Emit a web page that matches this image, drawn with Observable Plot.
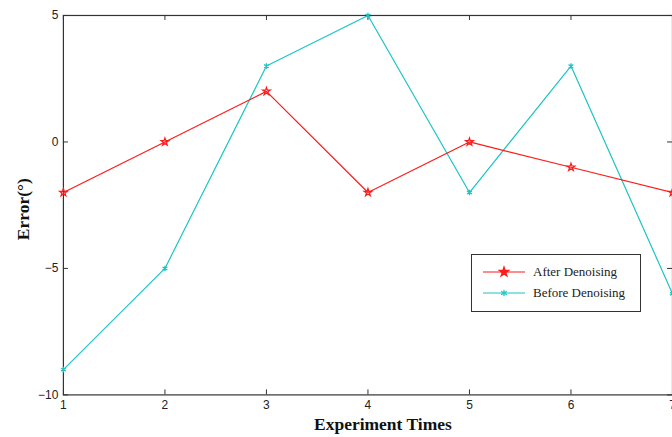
<!DOCTYPE html>
<html>
<head>
<meta charset="utf-8">
<script src="https://cdn.jsdelivr.net/npm/d3@7"></script>
<script src="https://cdn.jsdelivr.net/npm/@observablehq/plot@0.6"></script>
<style>
  html, body { margin: 0; padding: 0; background: #fff; overflow: hidden; }
  #wrap { position: relative; width: 672px; height: 437px; overflow: hidden; }
  #legend { position: absolute; left: 471px; top: 254px; width: 168px; height: 56px;
    border: 1px solid #333; background: #fff; font-family: "Liberation Serif", serif; font-size: 13px; color: #222; }
  .row { position: absolute; left: 0; height: 14px; display: flex; align-items: center; }
  .row svg { margin-left: 11px; }
  .row span { margin-left: 8px; }
</style>
</head>
<body>
<div id="wrap"></div>
<script>
const times = [1, 2, 3, 4, 5, 6, 7];
const afterDenoising = [-2, 0, 2, -2, 0, -1, -2];
const beforeDenoising = [-9, -5, 3, 5, -2, 3, -6];
const xTicks = [1, 2, 3, 4, 5, 6, 7];
const yTicks = [-10, -5, 0, 5];
const seriesNames = ["After Denoising", "Before Denoising"];
const seriesColors = ["#ff1a1a", "#1cc4c4"];

const afterData = times.map((t, i) => ({t, v: afterDenoising[i]}));
const beforeData = times.map((t, i) => ({t, v: beforeDenoising[i]}));

const tickFont = {fontFamily: "'Liberation Sans', Arial, sans-serif", fontSize: 12};
const titleFont = {fontFamily: "'Liberation Serif', 'Times New Roman', serif", fontSize: 17.5, fontWeight: "bold"};

const chart = Plot.plot({
  width: 673,
  height: 437,
  marginLeft: 63,
  marginRight: 0,
  marginTop: 15,
  marginBottom: 42,
  x: {domain: [1, 7]},
  y: {domain: [-10, 5]},
  style: {background: "#fff", overflow: "visible"},
  marks: [
    Plot.axisX(xTicks, {tickSize: 0, tickPadding: 6, label: null, fill: "#222", ...tickFont}),
    Plot.axisY(yTicks, {tickSize: 0, tickPadding: 5, label: null, fill: "#222", ...tickFont}),
    // inward ticks
    Plot.tickX(xTicks, {x: d => d, insetTop: 375, stroke: "#333"}),
    Plot.tickX(xTicks, {x: d => d, insetBottom: 375, stroke: "#333"}),
    Plot.tickY(yTicks, {y: d => d, insetRight: 605, stroke: "#333"}),
    Plot.tickY(yTicks, {y: d => d, insetLeft: 605, stroke: "#333"}),
    Plot.frame({stroke: "#333", strokeWidth: 1.2}),
    Plot.line(beforeData, {x: "t", y: "v", stroke: seriesColors[1], strokeWidth: 1.2}),
    Plot.dot(beforeData, {x: "t", y: "v", symbol: "asterisk", r: 2.6, stroke: seriesColors[1], strokeWidth: 1.3}),
    Plot.line(afterData, {x: "t", y: "v", stroke: seriesColors[0], strokeWidth: 1.2}),
    Plot.dot(afterData, {x: "t", y: "v", symbol: "star", r: 2.4, stroke: seriesColors[0], strokeWidth: 1.2}),
    Plot.text(["Experiment Times"], {frameAnchor: "bottom", dy: 35, dx: 15, text: d => d, fill: "#111", ...titleFont}),
    Plot.text(["Error(°)"], {frameAnchor: "left", dx: -40, dy: 4, rotate: -90, textAnchor: "middle", text: d => d, fill: "#111", ...titleFont})
  ]
});

const wrap = document.getElementById("wrap");
wrap.appendChild(chart);

// legend
const legend = document.createElement("div");
legend.id = "legend";
const symbols = [d3.symbolStar, d3.symbolAsterisk];
seriesNames.forEach((name, i) => {
  const row = document.createElement("div");
  row.className = "row";
  row.style.top = (i === 0 ? 10 : 31) + "px";
  const svg = d3.create("svg").attr("width", 42).attr("height", 14);
  svg.append("line").attr("x1", 0).attr("x2", 42).attr("y1", 7).attr("y2", 7)
    .attr("stroke", seriesColors[i]).attr("stroke-width", 1.2);
  svg.append("path").attr("d", d3.symbol(symbols[i], i === 0 ? 28 : 30)())
    .attr("transform", "translate(21,7)")
    .attr("fill", i === 0 ? seriesColors[i] : "none").attr("stroke", seriesColors[i]).attr("stroke-width", 1.2);
  row.appendChild(svg.node());
  const span = document.createElement("span");
  span.textContent = name;
  row.appendChild(span);
  legend.appendChild(row);
});
wrap.appendChild(legend);
</script>
</body>
</html>
